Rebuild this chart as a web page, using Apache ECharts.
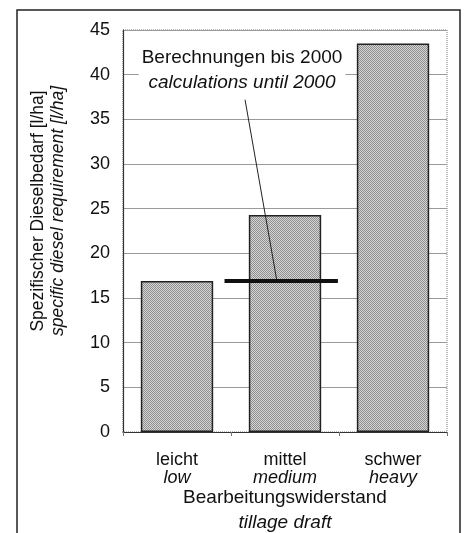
<!DOCTYPE html>
<html>
<head>
<meta charset="utf-8">
<script src="https://cdn.jsdelivr.net/npm/echarts@6/dist/echarts.min.js"></script>
<style>
  html, body { margin: 0; padding: 0; background: #fff; }
  #chart { width: 466px; height: 533px; }
</style>
</head>
<body>
<div id="chart"></div>
<script>
// data
var categories = ['leicht', 'mittel', 'schwer'];
var categoriesEn = ['low', 'medium', 'heavy'];
var dieselValues = [16.9, 24.3, 43.5];
var calcCategory = 1;      // "mittel"
var calcValue = 16.9;      // Berechnungen bis 2000
var yMin = 0, yMax = 45, yStep = 5;

var font = 'Liberation Sans, Arial, sans-serif';

// stippled grey fill like the printed bars
function dotPattern() {
  var c = document.createElement('canvas');
  c.width = 2; c.height = 2;
  var ctx = c.getContext('2d');
  ctx.fillStyle = '#d6d6d6';
  ctx.fillRect(0, 0, 2, 2);
  ctx.fillStyle = '#8e8e8e';
  ctx.fillRect(0, 0, 1, 1);
  ctx.fillRect(1, 1, 1, 1);
  return c;
}

var chart = echarts.init(document.getElementById('chart'));

chart.setOption({
  animation: false,
  backgroundColor: '#fff',
  textStyle: { fontFamily: font, color: '#111' },
  grid: {
    left: 123, right: 19, top: 30, bottom: 101,
    outerBoundsMode: 'none',
    show: true,
    borderColor: '#777',
    borderWidth: 1,
    borderType: 'dotted'
  },
  xAxis: {
    type: 'category',
    data: categories,
    axisLine: { lineStyle: { color: '#333', width: 1.2 } },
    axisTick: { show: true, length: 4, lineStyle: { color: '#777' } },
    axisLabel: {
      margin: 19,
      formatter: function (v, i) {
        return '{a|' + v + '}\n{b|' + categoriesEn[i] + '}';
      },
      rich: {
        a: { fontFamily: font, fontSize: 18, color: '#111', lineHeight: 18 },
        b: { fontFamily: font, fontSize: 18, fontStyle: 'italic', color: '#111', lineHeight: 18 }
      }
    },
    name: '{a|Bearbeitungswiderstand}\n{b|tillage draft}',
    nameLocation: 'middle',
    nameGap: 53,
    nameMoveOverlap: false,
    nameTextStyle: {
      rich: {
        a: { fontFamily: font, fontSize: 19, color: '#111', lineHeight: 25 },
        b: { fontFamily: font, fontSize: 19, fontStyle: 'italic', color: '#111', lineHeight: 25 }
      }
    }
  },
  yAxis: {
    type: 'value',
    min: yMin,
    max: yMax,
    interval: yStep,
    axisLine: { show: true, lineStyle: { color: '#333', width: 1.2 } },
    axisTick: { show: false },
    axisLabel: { fontSize: 18, color: '#111', margin: 13, fontFamily: font },
    splitLine: { lineStyle: { color: '#9a9a9a', width: 1 } }
  },
  graphic: [
    {
      type: 'rect',
      shape: { x: 17, y: 10, width: 443, height: 600 },
      style: { fill: 'none', stroke: '#222', lineWidth: 1.5 },
      z: -1
    },
    {
      type: 'text',
      x: 48,
      y: 211,
      rotation: Math.PI / 2,
      style: {
        text: '{a|Spezifischer Dieselbedarf [l/ha]}\n{b|specific diesel requirement [l/ha]}',
        textAlign: 'center',
        textVerticalAlign: 'middle',
        rich: {
          a: { fontFamily: font, fontSize: 17.5, fill: '#111', lineHeight: 20 },
          b: { fontFamily: font, fontSize: 17.5, fontStyle: 'italic', fill: '#111', lineHeight: 20 }
        }
      }
    },
    {
      type: 'text',
      x: 242,
      y: 70,
      z: 10,
      style: {
        text: '{a|Berechnungen bis 2000}\n{b|calculations until 2000}',
        textAlign: 'center',
        textVerticalAlign: 'middle',
        backgroundColor: '#fff',
        padding: [3, 3],
        rich: {
          a: { fontFamily: font, fontSize: 19, fill: '#111', lineHeight: 25 },
          b: { fontFamily: font, fontSize: 19, fontStyle: 'italic', fill: '#111', lineHeight: 25 }
        }
      }
    }
  ],
  series: [
    {
      type: 'bar',
      data: dieselValues,
      barWidth: '67%',
      itemStyle: {
        color: { image: dotPattern(), repeat: 'repeat' },
        borderColor: '#222',
        borderWidth: 1.5
      }
    },
    {
      // thick calculation line + leader line to the annotation
      type: 'custom',
      data: [[calcCategory, calcValue]],
      z: 5,
      renderItem: function (params, api) {
        var p = api.coord([api.value(0), api.value(1)]);
        var bw = api.size([1, 0])[0];
        var top = api.coord([0, 37.2]);
        return {
          type: 'group',
          children: [
            {
              type: 'line',
              shape: { x1: top[0] + 0.63 * bw, y1: top[1], x2: p[0] - 0.075 * bw, y2: p[1] },
              style: { stroke: '#222', lineWidth: 1 }
            },
            {
              type: 'line',
              shape: { x1: p[0] - 0.56 * bw, y1: p[1], x2: p[0] + 0.49 * bw, y2: p[1] },
              style: { stroke: '#111', lineWidth: 4 }
            }
          ]
        };
      }
    }
  ]
});
</script>
</body>
</html>
